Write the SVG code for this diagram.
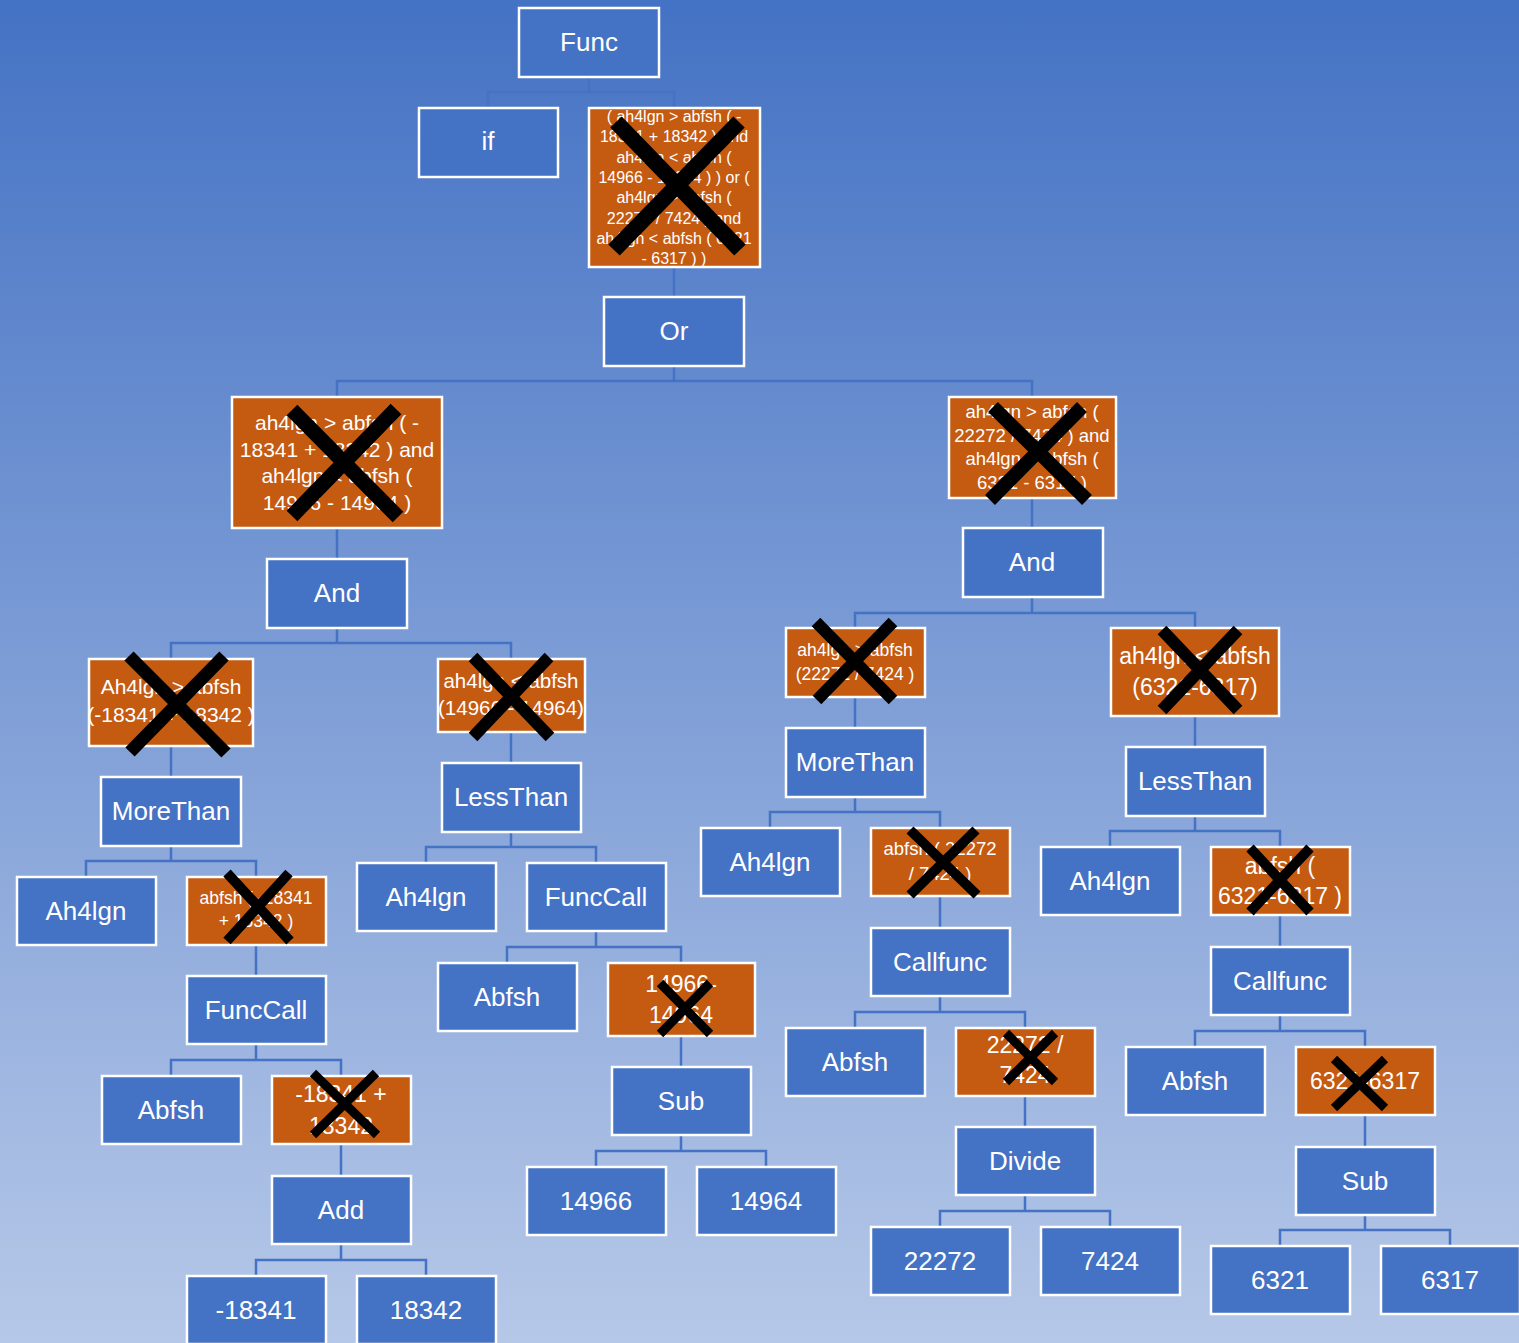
<svg xmlns="http://www.w3.org/2000/svg" width="1519" height="1343" viewBox="0 0 1519 1343">
<defs>
<linearGradient id="bg" x1="0" y1="0" x2="0" y2="1">
<stop offset="0" stop-color="#4472C4"/>
<stop offset="1" stop-color="#B6C8E8"/>
</linearGradient>
<style>
.n rect{fill:#4472C4;stroke:#FFFFFF;stroke-width:2.5}
.o rect{fill:#C55A11;stroke:#FFFFFF;stroke-width:2.5}
text{font-family:"Liberation Sans",Arial,sans-serif;fill:#FFFFFF;text-anchor:middle}
.n text{font-size:26px}
.c path{fill:none;stroke:#4472C4;stroke-width:2.5}
.x path{stroke:#000000;stroke-linecap:butt;fill:none}
</style>
</defs>
<rect x="0" y="0" width="1519" height="1343" fill="url(#bg)"/>
<g class="c" id="connectors">
<path d="M589 78V92M488 107V92H674V107"/>
<path d="M674 268V296"/>
<path d="M674 367V381M337 396V381H1032V396"/>
<path d="M337 529V558"/>
<path d="M1032 499V527"/>
<path d="M337 629V643M171 658V643H511V658"/>
<path d="M1032 598V613M855 627V613H1195V627"/>
<path d="M171 747V776"/>
<path d="M511 733V762"/>
<path d="M855 698V727"/>
<path d="M1195 717V746"/>
<path d="M171 847V861M86 876V861H256V876"/>
<path d="M511 833V847M426 862V847H596V862"/>
<path d="M855 798V812M770 827V812H940V827"/>
<path d="M1195 817V831M1110 846V831H1280V846"/>
<path d="M256 946V975"/>
<path d="M596 932V947M507 962V947H681V962"/>
<path d="M940 897V927"/>
<path d="M1280 916V946"/>
<path d="M256 1045V1060M171 1075V1060H341V1075"/>
<path d="M940 997V1012M855 1027V1012H1025V1027"/>
<path d="M1280 1016V1031M1195 1046V1031H1365V1046"/>
<path d="M681 1037V1066"/>
<path d="M341 1145V1175"/>
<path d="M1025 1097V1126"/>
<path d="M1365 1116V1146"/>
<path d="M681 1136V1151M596 1166V1151H766V1166"/>
<path d="M341 1245V1260M256 1275V1260H426V1275"/>
<path d="M1025 1196V1211M940 1226V1211H1110V1226"/>
<path d="M1365 1216V1230M1280 1245V1230H1450V1245"/>
</g>

<g class="n" id="func"><rect x="519" y="8" width="140" height="69"/><text x="589" y="51">Func</text></g>
<g class="n" id="if"><rect x="419" y="108" width="139" height="69"/><text x="488" y="150">if</text></g>
<g class="o" id="cond_all"><rect x="589" y="108" width="171" height="159"/>
<text font-size="16" x="674" y="122"><tspan x="674">( ah4lgn &gt; abfsh ( -</tspan><tspan x="674" dy="20.3">18341 + 18342 ) and</tspan><tspan x="674" dy="20.3">ah4lgn &lt; abfsh (</tspan><tspan x="674" dy="20.3">14966 - 14964 ) ) or (</tspan><tspan x="674" dy="20.3">ah4lgn &gt; abfsh (</tspan><tspan x="674" dy="20.3">22272 / 7424 ) and</tspan><tspan x="674" dy="20.3">ah4lgn &lt; abfsh ( 6321</tspan><tspan x="674" dy="20.3">- 6317 ) )</tspan></text></g>
<g class="n" id="or"><rect x="604" y="297" width="140" height="69"/><text x="674" y="340">Or</text></g>
<g class="o" id="cond_left"><rect x="232" y="397" width="210" height="131"/>
<text font-size="21" x="337" y="430"><tspan x="337">ah4lgn &gt; abfsh ( -</tspan><tspan x="337" dy="26.5">18341 + 18342 ) and</tspan><tspan x="337" dy="26.5">ah4lgn &lt; abfsh (</tspan><tspan x="337" dy="26.5">14966 - 14964 )</tspan></text></g>
<g class="o" id="cond_right"><rect x="949" y="397" width="167" height="101"/>
<text font-size="18.5" x="1032" y="418"><tspan x="1032">ah4lgn &gt; abfsh (</tspan><tspan x="1032" dy="23.6">22272 / 7424 ) and</tspan><tspan x="1032" dy="23.6">ah4lgn &lt; abfsh (</tspan><tspan x="1032" dy="23.6">6321 - 6317 )</tspan></text></g>
<g class="n" id="and_l"><rect x="267" y="559" width="140" height="69"/><text x="337" y="602">And</text></g>
<g class="n" id="and_r"><rect x="963" y="528" width="140" height="69"/><text x="1032" y="571">And</text></g>

<g class="o" id="gt_l"><rect x="89" y="659" width="164" height="87"/>
<text font-size="21" x="171" y="694"><tspan x="171">Ah4lgn &gt; abfsh</tspan><tspan x="171" dy="28">(-18341 + 18342 )</tspan></text></g>
<g class="o" id="lt_l"><rect x="438" y="659" width="147" height="73"/>
<text font-size="20.5" x="511" y="688"><tspan x="511">ah4lgn &lt; abfsh</tspan><tspan x="511" dy="27">(14966 - 14964)</tspan></text></g>
<g class="o" id="gt_r"><rect x="786" y="628" width="139" height="69"/>
<text font-size="17.5" x="855" y="656"><tspan x="855">ah4lgn &gt; abfsh</tspan><tspan x="855" dy="24">(22272 / 7424 )</tspan></text></g>
<g class="o" id="lt_r"><rect x="1111" y="628" width="168" height="88"/>
<text font-size="23" x="1195" y="664"><tspan x="1195">ah4lgn &lt; abfsh</tspan><tspan x="1195" dy="31">(6321-6317)</tspan></text></g>

<g class="n" id="more_l"><rect x="101" y="777" width="140" height="69"/><text x="171" y="820">MoreThan</text></g>
<g class="n" id="less_l"><rect x="442" y="763" width="139" height="69"/><text x="511" y="806">LessThan</text></g>
<g class="n" id="more_r"><rect x="786" y="728" width="139" height="69"/><text x="855" y="771">MoreThan</text></g>
<g class="n" id="less_r"><rect x="1126" y="747" width="139" height="69"/><text x="1195" y="790">LessThan</text></g>

<g class="n" id="a_1"><rect x="17" y="877" width="139" height="68"/><text x="86" y="920">Ah4lgn</text></g>
<g class="o" id="abf_1"><rect x="187" y="877" width="139" height="68"/>
<text font-size="17.5" x="256" y="904"><tspan x="256">abfsh ( -18341</tspan><tspan x="256" dy="23">+ 18342 )</tspan></text></g>
<g class="n" id="a_2"><rect x="357" y="863" width="139" height="68"/><text x="426" y="906">Ah4lgn</text></g>
<g class="n" id="fc_2"><rect x="527" y="863" width="139" height="68"/><text x="596" y="906">FuncCall</text></g>
<g class="n" id="a_3"><rect x="701" y="828" width="139" height="68"/><text x="770" y="871">Ah4lgn</text></g>
<g class="o" id="abf_3"><rect x="871" y="828" width="139" height="68"/>
<text font-size="18.5" x="940" y="855"><tspan x="940">abfsh ( 22272</tspan><tspan x="940" dy="25">/ 7424 )</tspan></text></g>
<g class="n" id="a_4"><rect x="1041" y="847" width="139" height="68"/><text x="1110" y="890">Ah4lgn</text></g>
<g class="o" id="abf_4"><rect x="1211" y="847" width="139" height="68"/>
<text font-size="23" x="1280" y="874"><tspan x="1280">abfsh (</tspan><tspan x="1280" dy="30">6321-6317 )</tspan></text></g>

<g class="n" id="fc_1"><rect x="187" y="976" width="139" height="68"/><text x="256" y="1019">FuncCall</text></g>
<g class="n" id="abfsh_2"><rect x="438" y="963" width="139" height="68"/><text x="507" y="1006">Abfsh</text></g>
<g class="o" id="sub_expr"><rect x="608" y="963" width="147" height="73"/>
<text font-size="23" x="681" y="992"><tspan x="681">14966-</tspan><tspan x="681" dy="31">14964</tspan></text></g>
<g class="n" id="cf_3"><rect x="871" y="928" width="139" height="68"/><text x="940" y="971">Callfunc</text></g>
<g class="n" id="cf_4"><rect x="1211" y="947" width="139" height="68"/><text x="1280" y="990">Callfunc</text></g>

<g class="n" id="abfsh_1"><rect x="102" y="1076" width="139" height="68"/><text x="171" y="1119">Abfsh</text></g>
<g class="o" id="add_expr"><rect x="272" y="1076" width="139" height="68"/>
<text font-size="23" x="341" y="1102"><tspan x="341">-18341 +</tspan><tspan x="341" dy="32">18342</tspan></text></g>
<g class="n" id="abfsh_3"><rect x="786" y="1028" width="139" height="68"/><text x="855" y="1071">Abfsh</text></g>
<g class="o" id="div_expr"><rect x="956" y="1028" width="139" height="68"/>
<text font-size="23" x="1025" y="1053"><tspan x="1025">22272 /</tspan><tspan x="1025" dy="30">7424</tspan></text></g>
<g class="n" id="abfsh_4"><rect x="1126" y="1047" width="139" height="68"/><text x="1195" y="1090">Abfsh</text></g>
<g class="o" id="sub_expr2"><rect x="1296" y="1047" width="139" height="68"/>
<text font-size="23" x="1365" y="1089">6321-6317</text></g>

<g class="n" id="sub_1"><rect x="612" y="1067" width="139" height="68"/><text x="681" y="1110">Sub</text></g>
<g class="n" id="add"><rect x="272" y="1176" width="139" height="68"/><text x="341" y="1219">Add</text></g>
<g class="n" id="divide"><rect x="956" y="1127" width="139" height="68"/><text x="1025" y="1170">Divide</text></g>
<g class="n" id="sub_2"><rect x="1296" y="1147" width="139" height="68"/><text x="1365" y="1190">Sub</text></g>

<g class="n" id="n14966"><rect x="527" y="1167" width="139" height="68"/><text x="596" y="1210">14966</text></g>
<g class="n" id="n14964"><rect x="697" y="1167" width="139" height="68"/><text x="766" y="1210">14964</text></g>
<g class="n" id="nm18341"><rect x="187" y="1276" width="139" height="68"/><text x="256" y="1319">-18341</text></g>
<g class="n" id="n18342"><rect x="357" y="1276" width="139" height="68"/><text x="426" y="1319">18342</text></g>
<g class="n" id="n22272"><rect x="871" y="1227" width="139" height="68"/><text x="940" y="1270">22272</text></g>
<g class="n" id="n7424"><rect x="1041" y="1227" width="139" height="68"/><text x="1110" y="1270">7424</text></g>
<g class="n" id="n6321"><rect x="1211" y="1246" width="139" height="68"/><text x="1280" y="1289">6321</text></g>
<g class="n" id="n6317"><rect x="1381" y="1246" width="139" height="68"/><text x="1450" y="1289">6317</text></g>

<g class="x" id="crosses">
<path stroke-width="16" d="M616 122L740 250M739 122L614 250"/>
<path stroke-width="15" d="M292 410L398 517M396 409L292 516"/>
<path stroke-width="14" d="M993 407L1087 500M1082 407L990 500"/>
<path stroke-width="13" d="M129 656L226 753M224 656L130 752"/>
<path stroke-width="12" d="M473 657L550 737M549 657L473 737"/>
<path stroke-width="12" d="M816 622L893 700M893 622L817 700"/>
<path stroke-width="12" d="M1162 630L1238 710M1238 630L1162 710"/>
<path stroke-width="10" d="M227 873L290 941M289 873L227 941"/>
<path stroke-width="10" d="M910 830L977 895M976 830L910 895"/>
<path stroke-width="10" d="M1250 848L1310 912M1310 848L1250 912"/>
<path stroke-width="9" d="M660 983L710 1034M710 983L660 1034"/>
<path stroke-width="9" d="M313 1073L377 1135M376 1073L313 1135"/>
<path stroke-width="9" d="M1006 1033L1055 1082M1055 1033L1006 1082"/>
<path stroke-width="9" d="M1334 1059L1385 1108M1385 1059L1334 1108"/>
</g>
</svg>
